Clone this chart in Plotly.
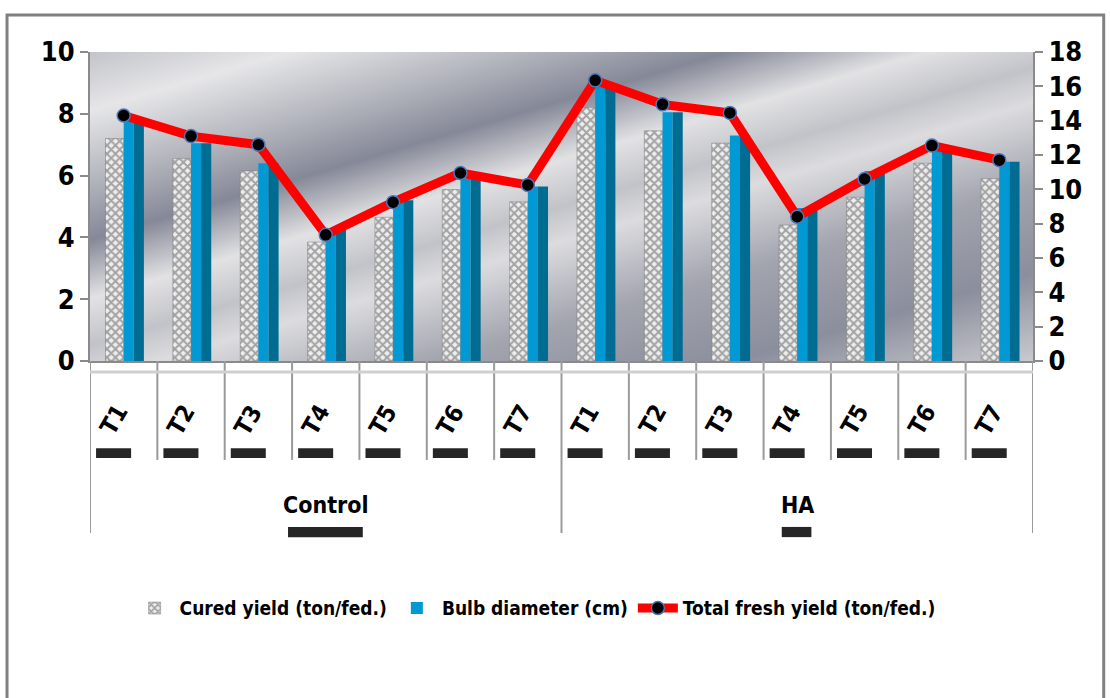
import base64
import plotly.graph_objects as go

# ---- data -------------------------------------------------------------
groups = ["Control", "HA"]
treatments = ["T1", "T2", "T3", "T4", "T5", "T6", "T7"]

cured_yield = [7.2, 6.55, 6.15, 3.85, 4.65, 5.55, 5.15,
               8.2, 7.45, 7.05, 4.4, 5.3, 6.4, 5.9]
bulb_diameter = [7.8, 7.05, 6.4, 4.25, 5.2, 5.9, 5.65,
                 9.0, 8.05, 7.3, 4.95, 6.15, 6.8, 6.45]
total_fresh_yield = [14.3, 13.1, 12.6, 7.35, 9.25, 10.95, 10.25,
                     16.35, 14.95, 14.45, 8.4, 10.6, 12.55, 11.7]

x = [f"{g} {t}" for g in groups for t in treatments]
labels = [t for g in groups for t in treatments]

FONT = "Liberation Sans Narrow, DejaVu Sans Condensed, Arial Narrow, sans-serif"

# ---- metallic background for the plotting area -------------------------
svg = """<svg xmlns='http://www.w3.org/2000/svg' width='943' height='309' viewBox='0 0 943 309' preserveAspectRatio='none'>
<defs><linearGradient id='g' gradientUnits='userSpaceOnUse' x1='0' y1='0' x2='159' y2='540'>
<stop offset='0' stop-color='#c3c4ca'/>
<stop offset='0.10' stop-color='#e6e6e8'/>
<stop offset='0.22' stop-color='#b3b5bd'/>
<stop offset='0.32' stop-color='#858897'/>
<stop offset='0.42' stop-color='#e2e2e4'/>
<stop offset='0.50' stop-color='#c2c3c9'/>
<stop offset='0.56' stop-color='#dcdcdf'/>
<stop offset='0.70' stop-color='#a2a4ae'/>
<stop offset='0.85' stop-color='#8b8e9c'/>
<stop offset='1' stop-color='#c9cacf'/>
</linearGradient></defs>
<rect width='943' height='309' fill='url(#g)'/></svg>"""
bg_uri = "data:image/svg+xml;base64," + base64.b64encode(svg.encode()).decode()

fig = go.Figure()

# cured yield: patterned grey bars
fig.add_trace(go.Bar(
    x=x, y=cured_yield, name="Cured yield (ton/fed.)",
    width=0.27, offset=-0.27,
    marker=dict(color="#eeeeee",
                line=dict(color="#7a7a7a", width=0.5),
                pattern=dict(shape="x", fgcolor="#555555", bgcolor="#eeeeee",
                             size=6, solidity=0.55)),
    yaxis="y",
))

# bulb diameter: two-tone blue column (lit face + shaded face)
fig.add_trace(go.Bar(
    x=x, y=bulb_diameter, name="Bulb diameter (cm)",
    width=0.15, offset=0.0,
    marker=dict(color="#0099d4", line=dict(width=0)),
    yaxis="y", legendgroup="bulb",
))
fig.add_trace(go.Bar(
    x=x, y=bulb_diameter, name="Bulb diameter (cm)",
    width=0.15, offset=0.15,
    marker=dict(color="#006c92", line=dict(width=0)),
    yaxis="y", legendgroup="bulb", showlegend=False,
))

# total fresh yield on the secondary axis
fig.add_trace(go.Scatter(
    x=x, y=total_fresh_yield, name="Total fresh yield (ton/fed.)",
    mode="lines+markers",
    line=dict(color="#ff0000", width=9),
    marker=dict(symbol="circle", size=13, color="#000000",
                line=dict(color="#4a78b8", width=1.5)),
    yaxis="y2",
))

shapes = []
annotations = []

# category separators below the axis
for k in range(len(x) + 1):
    long_line = k in (0, len(treatments), len(x))
    shapes.append(dict(type="line", xref="x", yref="paper",
                       x0=k - 0.5, x1=k - 0.5, y0=0, y1=-0.557 if long_line else -0.32,
                       line=dict(color="#9a9a9a", width=2)))
shapes.append(dict(type="line", xref="x", yref="paper", x0=-0.5, x1=len(x) - 0.5,
                   y0=-0.036, y1=-0.036, line=dict(color="#cfcfcf", width=3)))

# treatment labels with drop-shadow strips
for i, lab in enumerate(labels):
    shapes.append(dict(type="rect", xref="x", yref="paper",
                       x0=i - 0.41, x1=i + 0.11, y0=-0.314, y1=-0.282,
                       fillcolor="#000000", opacity=0.85, line=dict(width=0), layer="below"))
    annotations.append(dict(x=x[i], xshift=-10, xref="x", yref="paper", y=-0.19,
                            xanchor="center", yanchor="middle",
                            text=f"<b>{lab}</b>", showarrow=False, textangle=-60,
                            font=dict(family=FONT, size=24, color="#000000")))

# group labels
group_box = {"Control": (2.44, 3.55), "HA": (9.77, 10.21)}
for gi, g in enumerate(groups):
    centre = gi * len(treatments) + (len(treatments) - 1) / 2
    x0, x1 = group_box[g]
    shapes.append(dict(type="rect", xref="x", yref="paper", x0=x0, x1=x1,
                       y0=-0.57, y1=-0.537, fillcolor="#000000", opacity=0.85,
                       line=dict(width=0), layer="below"))
    annotations.append(dict(x=centre, xref="x", yref="paper", y=-0.466,
                            xanchor="center", yanchor="middle",
                            text=f"<b>{g}</b>", showarrow=False,
                            font=dict(family=FONT, size=23, color="#000000")))

# outer chart frame
shapes.append(dict(type="rect", xref="paper", yref="paper",
                   x0=-0.088, x1=1.075, y0=-1.3, y1=1.12,
                   line=dict(color="#808080", width=3), fillcolor="rgba(0,0,0,0)"))

axis_font = dict(family=FONT, size=27, color="#000000", weight="bold")

fig.update_layout(
    width=1110, height=698,
    margin=dict(l=90, r=77, t=52, b=337),
    paper_bgcolor="#ffffff",
    plot_bgcolor="rgba(0,0,0,0)",
    barmode="overlay",
    showlegend=True,
    legend=dict(orientation="h", x=0.472, xanchor="center", y=-0.8, yanchor="middle",
                font=dict(family=FONT, size=19, color="#000000", weight="bold"),
                itemwidth=40, tracegroupgap=0, bgcolor="rgba(0,0,0,0)"),
    xaxis=dict(type="category", range=[-0.5, len(x) - 0.5], showticklabels=False,
               showgrid=False, showline=True, linecolor="#8a8a8a", linewidth=2,
               ticks="", zeroline=False),
    yaxis=dict(range=[0, 10], dtick=2, showgrid=False, zeroline=False,
               showline=True, linecolor="#8a8a8a", linewidth=2,
               ticks="outside", ticklen=8, tickcolor="#8a8a8a", tickwidth=2,
               tickfont=axis_font),
    yaxis2=dict(range=[0, 18], dtick=2, overlaying="y", side="right",
                showgrid=False, zeroline=False,
                showline=True, linecolor="#8a8a8a", linewidth=2,
                ticks="outside", ticklen=8, tickcolor="#8a8a8a", tickwidth=2,
                tickfont=axis_font),
    images=[dict(source=bg_uri, xref="paper", yref="paper", x=0, y=1,
                 sizex=1, sizey=1, sizing="stretch", layer="below",
                 xanchor="left", yanchor="top")],
    shapes=shapes,
    annotations=annotations,
)

fig.write_html("out.html")
